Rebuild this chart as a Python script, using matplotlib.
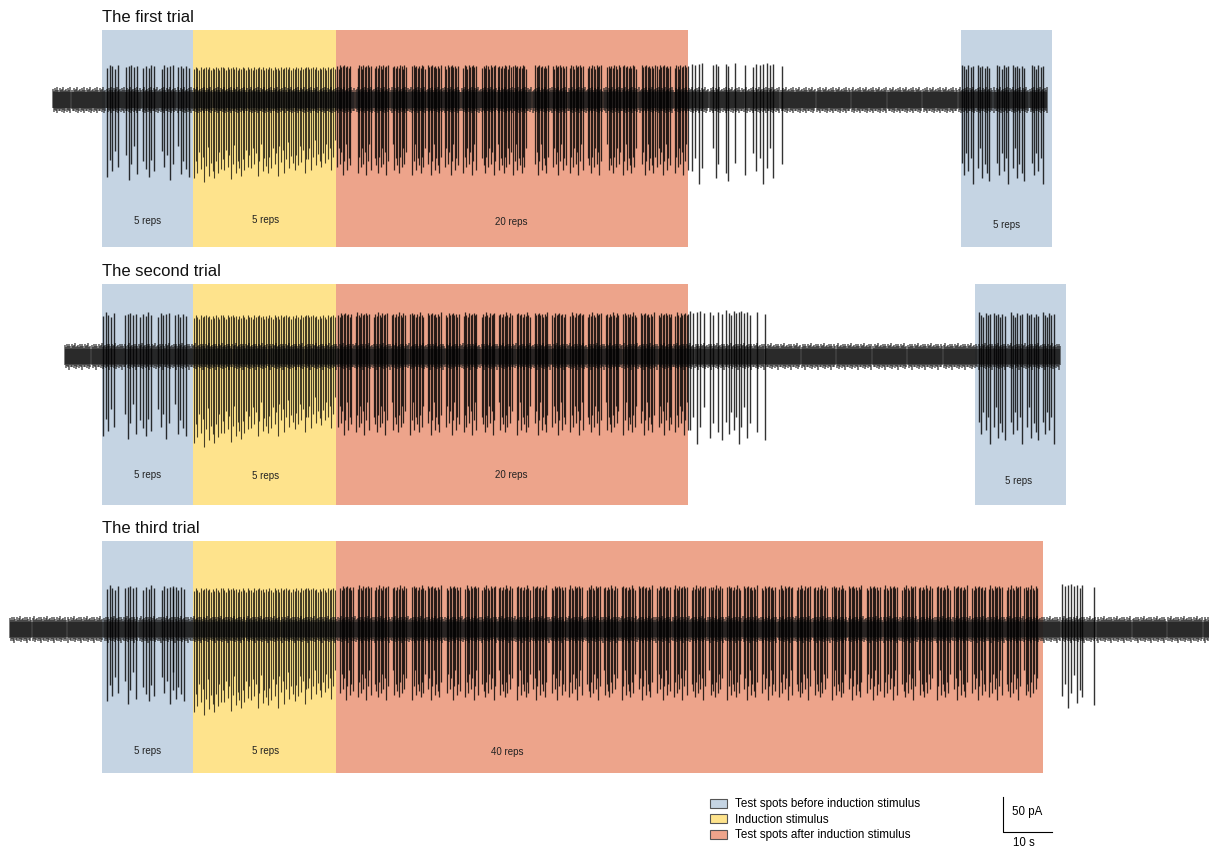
import numpy as np
import matplotlib.pyplot as plt
from matplotlib.patches import Rectangle, Patch

plt.rcParams['font.family'] = ['Liberation Sans', 'DejaVu Sans']

# colours of the stimulus blocks
c_pre = '#c5d4e3'
c_ind = '#fee38c'
c_post = '#eda48b'

# times in s (0 = first test spot), currents in pA relative to baseline
pre_block = (0.0, 18.6)
ind_block = (18.6, 47.8)
ind_onsets = [18.8, 24.6, 30.4, 36.2, 42.0]

# ---- trial 1
t1_trace = (-10.0, 192.9)
t1_red_block = (47.8, 119.6)
t1_pre2_block = (175.3, 193.9)
t1_pre = [1.0, 4.9, 8.4, 12.2, 15.5]
t1_ind_down = [112, 108, 104, 100, 96]
t1_red = [48.0, 52.2, 55.7, 59.4, 63.3, 66.5, 70.0, 73.7, 77.6, 80.8,
          83.9, 88.4, 92.0, 95.5, 99.2, 103.1, 106.3, 110.2, 113.3, 116.9]
t1_late = [120.4, 121.0, 121.8, 122.4, 124.7, 125.3, 125.7, 127.3, 127.8, 129.2,
           131.2, 132.9, 133.5, 134.3, 134.9, 135.7, 136.3, 136.9, 138.8]
t1_pre2 = [175.5, 178.8, 182.7, 185.9, 189.8]

# ---- trial 2
t2_trace = (-7.6, 195.5)
t2_red_block = (47.8, 119.6)
t2_pre2_block = (178.2, 196.7)
t2_pre = [0.2, 4.7, 7.8, 11.4, 14.9]
t2_ind_down = [124, 118, 110, 104, 98]
t2_red = [48.2, 51.8, 55.5, 59.2, 62.9, 66.5, 70.2, 73.8, 77.5, 81.0,
          84.7, 88.3, 91.9, 95.6, 99.2, 102.8, 106.4, 110.0, 113.6, 117.0]
t2_late = [120.0, 120.6, 121.4, 122.0, 122.9, 124.1, 124.7, 125.7, 126.5, 127.3,
           128.0, 128.4, 129.0, 129.4, 130.0, 130.4, 131.0, 131.6, 132.2, 133.7, 135.3]
t2_pre2 = [179.0, 182.0, 185.5, 188.8, 192.0]

# ---- trial 3
t3_trace = (-18.8, 225.9)
t3_red_block = (47.8, 192.1)
t3_pre = [1.0, 4.7, 8.4, 12.2, 14.5]
t3_ind_down = [118, 112, 108, 102, 96]
t3_red = [48.6, 52.2, 55.7, 59.4, 63.3, 66.5, 70.4, 74.1, 77.6, 81.0,
          84.7, 88.0, 91.8, 95.3, 99.0, 102.4, 106.1, 109.6, 113.3, 116.7,
          120.4, 123.9, 127.6, 131.0, 134.7, 138.2, 141.8, 145.3, 149.0, 152.4,
          156.1, 159.6, 163.3, 166.7, 170.4, 173.9, 177.6, 181.0, 184.7, 188.2]
t3_late = [195.9, 196.5, 197.1, 197.8, 198.4, 199.0, 199.6, 200.0, 202.4]

# amplitude variation pattern across successive spikes / noise samples
jitter = [1.0, 0.78, 0.93, 0.66, 0.88, 0.72, 1.04, 0.84, 0.6, 0.97, 0.8, 0.9]
noise = [16, 13, 17, 14, 18, 15, 12, 17, 14, 16, 19, 13, 15]

legend_labels = ['Test spots before induction stimulus', 'Induction stimulus',
                 'Test spots after induction stimulus']

fig = plt.figure(figsize=(12.09, 8.47), dpi=100)
ax = fig.add_axes([0, 0, 1, 1])
ax.set_xlim(-102 / 4.9, (1209 - 102) / 4.9)
ax.set_ylim(0, 847 / 0.7)
ax.axis('off')


def draw_spikes(base, times, up, down, shift=0, lw=0.9, alpha=0.8):
    times = np.asarray(times, dtype=float)
    n = len(times)
    j = np.array(jitter)
    s_dn = j[(np.arange(n) + shift) % len(j)]
    s_up = j[(np.arange(n) + shift + 5) % len(j)]
    ax.vlines(times, base - down * s_dn, base + up * (0.75 + 0.25 * s_up),
              color='black', lw=lw, alpha=alpha, zorder=3)


def clusters(onsets, width, n):
    out = []
    for t0 in onsets:
        out.extend(t0 + np.linspace(0, width, n))
    return out


def draw_baseline(base, trace):
    ts = np.arange(trace[0], trace[1], 0.21)
    nz = np.array(noise)
    hi = nz[np.arange(len(ts)) % len(nz)]
    lo = nz[(np.arange(len(ts)) + 6) % len(nz)]
    ax.vlines(ts, base - lo, base + hi, color='#222222', lw=1.1, alpha=0.75, zorder=2)
    ax.fill_between(trace, base - 11, base + 11, color='#1a1a1a', alpha=0.65, lw=0, zorder=2)


def draw_trial(base, ytop, ybot, title, trace, blocks, labels, label_y,
               pre, ind_down, red, late, pre2, up, down):
    for (x0, x1), col in blocks:
        ax.add_patch(Rectangle((x0, ybot), x1 - x0, ytop - ybot, fc=col, ec='none', zorder=1))
    for (x, txt), ly in zip(labels, label_y):
        ax.text(x, ly, txt, ha='center', va='center', fontsize=7, color='#222222', zorder=4)
    ax.text(0, ytop + 18, title, ha='left', va='center', fontsize=12, color='#111111')
    draw_baseline(base, trace)
    draw_spikes(base, clusters(pre, 2.2, 5), up, down * 0.95, lw=1.0)
    for k, (t0, d) in enumerate(zip(ind_onsets, ind_down)):
        draw_spikes(base, clusters([t0], 5.5, 17), up * 0.95, d, shift=k, lw=0.8, alpha=0.72)
    draw_spikes(base, clusters(red, 2.6, 10), up, down * 0.9, shift=2)
    draw_spikes(base, late, up * 1.05, down, shift=4, lw=1.0)
    if pre2:
        draw_spikes(base, clusters(pre2, 2.2, 6), up, down, shift=1, lw=1.0)


draw_trial(1067, 1167, 857, 'The first trial', t1_trace,
           [(pre_block, c_pre), (ind_block, c_ind), (t1_red_block, c_post), (t1_pre2_block, c_pre)],
           [(9.3, '5 reps'), (33.3, '5 reps'), (83.5, '20 reps'), (184.7, '5 reps')],
           [894, 896, 893, 889],
           t1_pre, t1_ind_down, t1_red, t1_late, t1_pre2, 50, 115)

draw_trial(701, 804, 489, 'The second trial', t2_trace,
           [(pre_block, c_pre), (ind_block, c_ind), (t2_red_block, c_post), (t2_pre2_block, c_pre)],
           [(9.3, '5 reps'), (33.3, '5 reps'), (83.5, '20 reps'), (187.1, '5 reps')],
           [531, 530, 531, 523],
           t2_pre, t2_ind_down, t2_red, t2_late, t2_pre2, 62, 120)

draw_trial(311, 437, 106, 'The third trial', t3_trace,
           [(pre_block, c_pre), (ind_block, c_ind), (t3_red_block, c_post)],
           [(9.3, '5 reps'), (33.3, '5 reps'), (82.7, '40 reps')],
           [137, 137, 136],
           t3_pre, t3_ind_down, t3_red, t3_late, None, 62, 108)

# legend
handles = [Patch(fc=c, ec='#555555', lw=0.8) for c in (c_pre, c_ind, c_post)]
fig.legend(handles, legend_labels, loc='upper left', bbox_to_anchor=(0.587, 0.0575),
           frameon=False, fontsize=8.4, handlelength=1.45, handleheight=0.75,
           handletextpad=0.75, labelspacing=0.3, borderaxespad=0, borderpad=0)

# scale bar: 50 pA, 10 s
sx, sy = 183.9, 21.4
ax.plot([sx, sx, sx + 10], [sy + 50, sy, sy], color='black', lw=0.8)
ax.text(sx + 1.8, sy + 29, '50 pA', ha='left', va='center', fontsize=8.3)
ax.text(sx + 4.3, sy - 16, '10 s', ha='center', va='center', fontsize=8.3)

fig.savefig('out.png', dpi=100)
